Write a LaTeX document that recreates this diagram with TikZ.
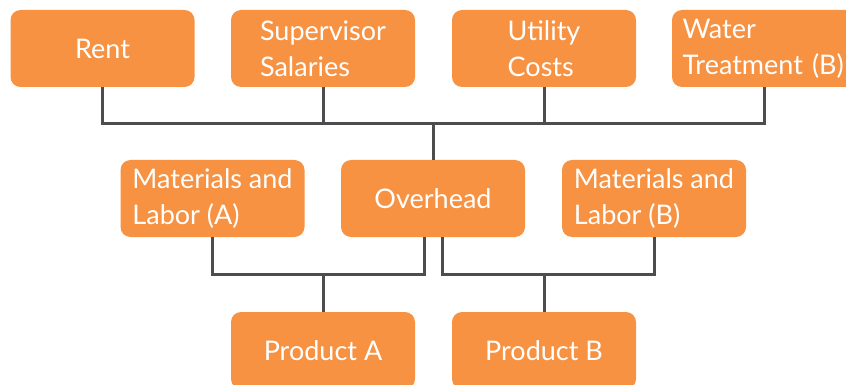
\documentclass[tikz,border=0pt]{standalone}
\usepackage{fontspec}
\setmainfont{Lato}
\usetikzlibrary{calc}
\definecolor{boxorange}{HTML}{F79242}
\definecolor{linegray}{HTML}{4D4D4F}
\begin{document}
\begin{tikzpicture}[x=1pt,y=-1pt,
  box/.style={rounded corners=10pt, fill=boxorange, text=white, minimum width=184pt, minimum height=77pt, align=left, inner sep=0pt, font=\fontsize{27}{36}\selectfont},
  conn/.style={draw=linegray, line width=3pt, line join=miter}]
\useasboundingbox (0,0) rectangle (846,385);
\clip (0,0) rectangle (846,385);
\node[box] (rent) at (102.5,48.5) {Rent};
\node[box] (sup) at (323,48.5) {Supervisor\\Salaries};
\node[box] (util) at (544,48.5) {Utility\\Costs};
\node[box, text width=163pt] (water) at (764,48.5) {Water\\Treatment (B)};
\node[box] (matA) at (212.5,198.5) {Materials and\\Labor (A)};
\node[box] (over) at (433,198.5) {Overhead};
\node[box] (matB) at (654,198.5) {Materials and\\Labor (B)};
\node[box] (prodA) at (323,350.5) {Product A};
\node[box] (prodB) at (544,350.5) {Product B};
\coordinate (hub) at (433,124);
\coordinate (ja) at (323,274);
\coordinate (jb) at (544,274);
\coordinate (ohl) at ($(over.south)+(-9,0)$);
\coordinate (ohr) at ($(over.south)+(9,0)$);
\draw[conn] (rent.south) -- (rent.south |- hub) -- (water.south |- hub) -- (water.south);
\draw[conn] (sup.south) -- (sup.south |- hub);
\draw[conn] (util.south) -- (util.south |- hub);
\draw[conn] (hub) -- (over.north);
\draw[conn] (matA.south) -- (matA.south |- ja) -- (ohl |- ja) -- (ohl);
\draw[conn] (ohr) -- (ohr |- jb) -- (matB.south |- jb) -- (matB.south);
\draw[conn] (ja) -- (prodA.north);
\draw[conn] (jb) -- (prodB.north);
\end{tikzpicture}
\end{document}
